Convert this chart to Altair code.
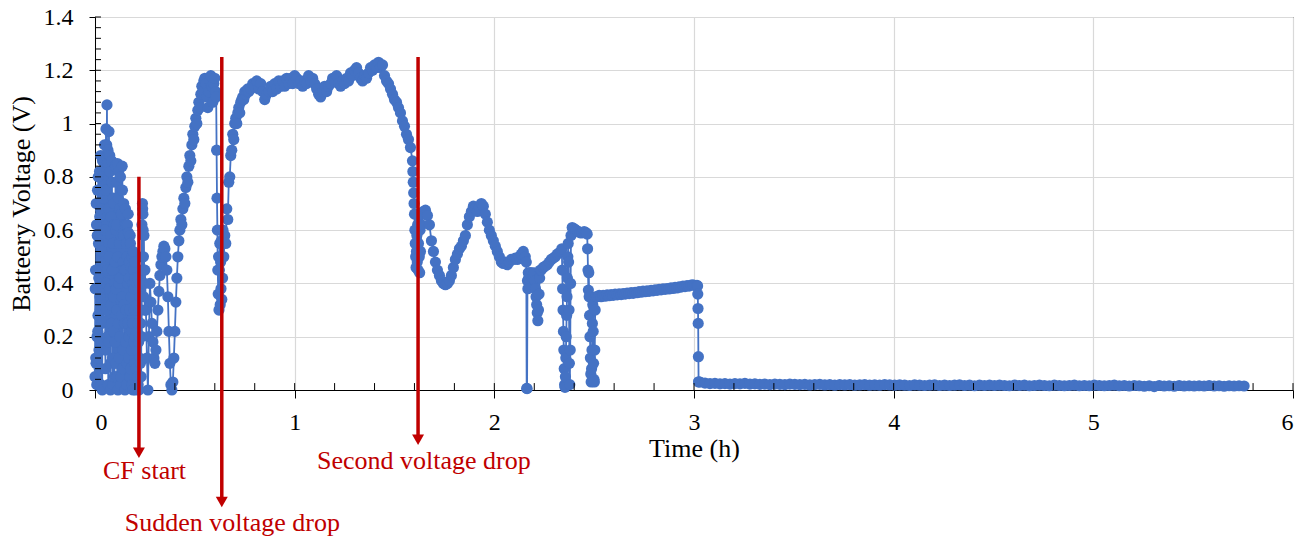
import altair as alt
import pandas as pd

BLUE = "#4472C4"
RED = "#C00000"
FONT = "Liberation Serif"

# ---- measured battery voltage, logged in segments: (start time h, sampling step h, voltages V)
noise_t0, noise_dt = 0.0, 0.0025
noise_v = [
    0.05, 0.45, 0.10, 0.62, 0.20, 0.75, 0.28, 0.55, 0.15, 0.82,
    0.35, 0.68, 0.02, 0.50, 0.25, 0.86, 0.40, 0.72, 0.32, 0.92,
    0.60, 0.08, 0.98, 0.30, 1.07, 0.45, 0.90, 0.18, 0.97, 0.38,
    0.82, 0.00, 0.65, 0.25, 0.78, 0.12, 0.55, 0.35, 0.70, 0.05,
    0.48, 0.84, 0.10, 0.62, 0.30, 0.85, 0.00, 0.72, 0.40, 0.55,
    0.20, 0.80, 0.05, 0.66, 0.35, 0.75, 0.15, 0.58, 0.45, 0.25,
    0.00, 0.68, 0.30, 0.55, 0.10, 0.62, 0.40, 0.59, 0.20, 0.48,
    0.05, 0.55, 0.35, 0.15, 0.50, 0.25, 0.00, 0.45, 0.38, 0.10,
    0.42, 0.00, 0.30, 0.15, 0.40, 0.05, 0.25, 0.38, 0.00, 0.20,
    0.35, 0.10, 0.30, 0.45, 0.62, 0.70, 0.66, 0.50, 0.58, 0.40,
]

# samples logged in between the ones above (same early noisy period)
noise2_t0, noise2_dt = 0.00125, 0.0025
noise2_v = [
    0.38, 0.12, 0.70, 0.02, 0.58, 0.22, 0.80, 0.42, 0.08, 0.65,
    0.30, 0.88, 0.18, 0.52, 0.00, 0.74, 0.26, 0.60, 0.48, 0.84,
    0.15, 0.75, 0.40, 0.92, 0.20, 0.85, 0.02, 0.68, 0.50, 0.88,
    0.10, 0.58, 0.32, 0.86, 0.45, 0.02, 0.72, 0.22, 0.62, 0.40,
    0.18, 0.60, 0.38, 0.78, 0.05, 0.50, 0.25, 0.82, 0.12, 0.68,
    0.42, 0.02, 0.58, 0.28, 0.84, 0.08, 0.48, 0.70, 0.32, 0.62,
    0.45, 0.18, 0.62, 0.02, 0.50, 0.25, 0.66, 0.12, 0.42, 0.30,
    0.58, 0.08, 0.46, 0.22, 0.02, 0.40, 0.52, 0.18, 0.30, 0.48,
    0.20, 0.38, 0.08, 0.32, 0.22, 0.42, 0.02, 0.18, 0.30, 0.12,
    0.40, 0.25, 0.05, 0.20, 0.50, 0.68, 0.60, 0.35, 0.45, 0.30,
]

rise1_t0, rise1_dt = 0.25, 0.005
rise1_v = [
    0.45, 0.30, 0.12, 0.00, 0.20, 0.40, 0.33, 0.25, 0.18, 0.12,
    0.10, 0.15, 0.22, 0.30, 0.37, 0.43, 0.47, 0.50, 0.52, 0.54,
    0.53, 0.50, 0.45, 0.35, 0.22, 0.10, 0.02, 0.00, 0.03, 0.12,
    0.22, 0.33, 0.42, 0.50, 0.56, 0.60, 0.64, 0.62, 0.68, 0.72,
    0.70, 0.76, 0.80, 0.78, 0.84, 0.88, 0.86, 0.92, 0.96, 0.94,
    0.99, 1.02, 1.00, 1.05, 1.08, 1.06, 1.11, 1.14, 1.12, 1.16,
    1.17, 1.15, 1.10, 1.06, 1.12, 1.16, 1.18, 1.14, 1.08, 1.15,
    1.17, 1.12,
]

drop1_t0, drop1_dt = 0.607, 0.002
drop1_v = [1.10, 0.90, 0.72, 0.60, 0.45, 0.36, 0.50, 0.30, 0.45, 0.55,
           0.32, 0.48, 0.38, 0.56, 0.34, 0.50, 0.42, 0.60]

rise2_t0, rise2_dt = 0.645, 0.005
rise2_v = [0.50, 0.58, 0.55, 0.68, 0.64, 0.78, 0.80, 0.88, 0.90, 0.96,
           0.94, 1.00, 1.02, 1.00, 1.04, 1.06, 1.04, 1.08, 1.09, 1.10,
           1.09, 1.12, 1.11, 1.12, 1.13, 1.12]

plateau_t0, plateau_dt = 0.78, 0.01
plateau_v = [
    1.13, 1.15, 1.14, 1.16, 1.13, 1.15, 1.12, 1.09, 1.11, 1.12,
    1.14, 1.12, 1.15, 1.13, 1.16, 1.14, 1.16, 1.14, 1.17, 1.15,
    1.17, 1.15, 1.18, 1.17, 1.15, 1.16, 1.14, 1.16, 1.15, 1.18,
    1.16, 1.17, 1.15, 1.13, 1.11, 1.10, 1.12, 1.14, 1.12, 1.14,
    1.15, 1.17, 1.16, 1.18, 1.15, 1.14, 1.16, 1.15, 1.17, 1.16,
    1.19, 1.18, 1.20, 1.21, 1.19, 1.17, 1.16, 1.18, 1.17, 1.19,
    1.21, 1.20, 1.22, 1.21, 1.23, 1.21, 1.22, 1.18, 1.16, 1.15,
    1.13, 1.11, 1.09, 1.08, 1.06, 1.04, 1.01, 0.99, 0.96, 0.94,
    0.91, 0.86,
]

drop2_t0, drop2_dt = 1.592, 0.002
drop2_v = [0.82, 0.78, 0.74, 0.70, 0.66, 0.60, 0.55, 0.50, 0.46, 0.52,
           0.58, 0.48, 0.62, 0.45, 0.55, 0.65, 0.50, 0.44, 0.60, 0.52]

wave_t0, wave_dt = 1.635, 0.01
wave_v = [
    0.62, 0.67, 0.675, 0.655, 0.62, 0.56, 0.52, 0.48, 0.45, 0.43,
    0.41, 0.40, 0.395, 0.40, 0.41, 0.43, 0.46, 0.49, 0.51, 0.53,
    0.54, 0.56, 0.58, 0.62, 0.65, 0.67, 0.69, 0.68, 0.67, 0.685,
    0.70, 0.69, 0.66, 0.63, 0.60, 0.58, 0.56, 0.54, 0.52, 0.50,
    0.48, 0.475, 0.48, 0.47, 0.48, 0.49, 0.49, 0.495, 0.49, 0.50,
    0.51, 0.52, 0.50,
]

cut1_t0, cut1_dt = 2.160, 0.002
cut1_v = [0.48, 0.006, 0.005, 0.41, 0.38, 0.44, 0.42]

dip_t0, dip_dt = 2.176, 0.003
dip_v = [0.44, 0.43, 0.44, 0.43, 0.44, 0.42, 0.43, 0.42, 0.44, 0.41,
         0.38, 0.35, 0.32, 0.29, 0.26, 0.30, 0.36, 0.42, 0.45]

ramp_t0, ramp_dt = 2.235, 0.01
ramp_v = [0.45, 0.46, 0.465, 0.47, 0.48, 0.49, 0.495, 0.50, 0.51, 0.515, 0.52]

cut2_t0, cut2_dt = 2.338, 0.002
cut2_v = [0.53, 0.45, 0.38, 0.30, 0.22, 0.15, 0.08, 0.02, 0.01, 0.05,
          0.12, 0.20, 0.28, 0.35, 0.42, 0.50, 0.55, 0.48, 0.30, 0.10,
          0.02, 0.15, 0.40, 0.58]

top_t0, top_dt = 2.39, 0.01
top_v = [0.61, 0.605, 0.60, 0.595, 0.59, 0.59, 0.595, 0.59]

cut3_t0, cut3_dt = 2.465, 0.002
cut3_v = [0.585, 0.53, 0.45, 0.375, 0.44, 0.35, 0.28, 0.20, 0.12, 0.06,
          0.03, 0.08, 0.15, 0.25, 0.32, 0.22, 0.10, 0.04, 0.03, 0.15,
          0.30, 0.35]

flat_t0, flat_dt = 2.515, 0.01
flat_v = [
    0.350, 0.355, 0.350, 0.355, 0.352, 0.357, 0.354, 0.358, 0.355, 0.360,
    0.357, 0.361, 0.358, 0.362, 0.360, 0.364, 0.362, 0.366, 0.363, 0.367,
    0.365, 0.369, 0.367, 0.371, 0.369, 0.372, 0.370, 0.374, 0.372, 0.376,
    0.374, 0.378, 0.376, 0.380, 0.378, 0.381, 0.379, 0.383, 0.381, 0.385,
    0.383, 0.387, 0.386, 0.390, 0.388, 0.392, 0.390, 0.394, 0.395, 0.392,
    0.393,
]

cut4_t0, cut4_dt = 3.018, 0.001
cut4_v = [0.39, 0.36, 0.306, 0.25, 0.125, 0.031, 0.03]

tail_t0, tail_dt = 3.03, 0.025
tail_v = [
    0.030, 0.026, 0.024, 0.025, 0.023, 0.024, 0.022, 0.024, 0.023, 0.025,
    0.022, 0.023, 0.021, 0.022, 0.020, 0.022, 0.021, 0.020, 0.022, 0.021,
    0.020, 0.021, 0.019, 0.020, 0.021, 0.019, 0.020, 0.018, 0.020, 0.019,
    0.020, 0.018, 0.019, 0.020, 0.018, 0.019, 0.018, 0.020, 0.019, 0.018,
    0.019, 0.018, 0.017, 0.019, 0.018, 0.017, 0.018, 0.019, 0.017, 0.018,
    0.017, 0.018, 0.019, 0.017, 0.018, 0.016, 0.018, 0.017, 0.018, 0.017,
    0.018, 0.017, 0.016, 0.018, 0.017, 0.018, 0.016, 0.017, 0.018, 0.017,
    0.016, 0.018, 0.017, 0.016, 0.017, 0.018, 0.016, 0.017, 0.016, 0.018,
    0.017, 0.016, 0.017, 0.018, 0.016, 0.017, 0.015, 0.017, 0.016, 0.014,
    0.016, 0.013, 0.017, 0.015, 0.016, 0.014, 0.017, 0.015, 0.016, 0.015,
    0.016, 0.015, 0.017, 0.015, 0.016, 0.014, 0.016, 0.015, 0.016, 0.015,
]

segments = [
    (noise_t0, noise_dt, noise_v), (noise2_t0, noise2_dt, noise2_v),
    (rise1_t0, rise1_dt, rise1_v),
    (drop1_t0, drop1_dt, drop1_v), (rise2_t0, rise2_dt, rise2_v),
    (plateau_t0, plateau_dt, plateau_v), (drop2_t0, drop2_dt, drop2_v),
    (wave_t0, wave_dt, wave_v), (cut1_t0, cut1_dt, cut1_v),
    (dip_t0, dip_dt, dip_v), (ramp_t0, ramp_dt, ramp_v),
    (cut2_t0, cut2_dt, cut2_v), (top_t0, top_dt, top_v),
    (cut3_t0, cut3_dt, cut3_v), (flat_t0, flat_dt, flat_v),
    (cut4_t0, cut4_dt, cut4_v), (tail_t0, tail_dt, tail_v),
]

rows = []
for t0, dt, vals in segments:
    for k, v in enumerate(vals):
        rows.append({"x": round(t0 + k * dt, 5), "y": v})
df = pd.DataFrame(rows).sort_values("x", kind="stable").reset_index(drop=True)
df["i"] = range(len(df))

# ---- annotations
arrow_labels = ["CF start", "Sudden voltage drop", "Second voltage drop"]
arrow_x = [0.22, 0.635, 1.618]
arrow_top = [0.80, 1.25, 1.25]
arrow_tip = [-0.255, -0.44, -0.206]
label_x = [0.248, 0.688, 1.647]
label_y = [-0.334, -0.529, -0.297]

head_offset = 0.0195
arrows = pd.DataFrame({
    "x": arrow_x,
    "y": arrow_top,
    "y2": [t + head_offset for t in arrow_tip],
})
heads = pd.DataFrame({"x": arrow_x, "y": [t + head_offset for t in arrow_tip]})
labels = pd.DataFrame({"x": label_x, "y": label_y, "label": arrow_labels})

# ---- axis ticks
x_ticks = [0, 1, 2, 3, 4, 5, 6]
y_ticks = [0, 0.2, 0.4, 0.6, 0.8, 1.0, 1.2, 1.4]
x_inner_ticks = pd.DataFrame({"x": [round(k * 0.2, 2) for k in range(1, 31)]})
y_inner_ticks = pd.DataFrame({"y": [round(k * 0.04, 2) for k in range(1, 36)]})

xscale = alt.Scale(domain=[0, 6], nice=False, zero=False)
yscale = alt.Scale(domain=[0, 1.4], nice=False)

common = dict(labelFont=FONT, titleFont=FONT, labelColor="black", titleColor="black",
              domainColor="black", tickColor="black", gridColor="#d9d9d9", gridWidth=1.2,
              titleFontWeight="normal", grid=True)
xaxis = alt.Axis(values=x_ticks, title="Time (h)", format="d", labelFontSize=24,
                 labelPadding=12, tickSize=8, titleFontSize=26,
                 titleY=66.5, titleBaseline="alphabetic", **common)
yaxis = alt.Axis(values=y_ticks, title="Batteery Voltage (V)", format=".1~f",
                 labelFontSize=24, labelPadding=16, tickSize=6, titleFontSize=26,
                 titleAngle=270, titleX=-65.5, titleY=186.5,
                 titleBaseline="alphabetic", titleAlign="center", **common)

X = alt.X("x:Q", scale=xscale, axis=xaxis)
Y = alt.Y("y:Q", scale=yscale, axis=yaxis)

line = alt.Chart(df).mark_line(color=BLUE, strokeWidth=1.8).encode(
    x=X, y=Y, order=alt.Order("i:Q"),
)
pts = alt.Chart(df).mark_circle(color=BLUE, size=125, opacity=1).encode(x=X, y=Y)

xt = alt.Chart(x_inner_ticks).mark_rule(color="black", strokeWidth=1).encode(
    x=X, y=alt.datum(0), y2=alt.datum(0.026),
)
yt = alt.Chart(y_inner_ticks).mark_rule(color="black", strokeWidth=1).encode(
    y=Y, x=alt.datum(0), x2=alt.datum(0.03),
)

shaft = alt.Chart(arrows).mark_rule(color=RED, strokeWidth=3.5).encode(
    x=X, y=Y, y2="y2:Q",
)
head = alt.Chart(heads).mark_point(shape="triangle-down", filled=True, size=144,
                                   color=RED, opacity=1).encode(x=X, y=Y)
text = alt.Chart(labels).mark_text(font=FONT, fontSize=26, color=RED,
                                   baseline="alphabetic", align="center").encode(
    x=X, y=Y, text="label:N",
)

chart = alt.layer(line, pts, xt, yt, shaft, head, text).properties(
    width=1198, height=373,
    autosize=alt.AutoSizeParams(type="none"),
    padding={"left": 95, "top": 17, "right": 22, "bottom": 154},
).configure(
    font=FONT
).configure_view(
    stroke="black", strokeWidth=1
).configure_axis(
    labelFont=FONT, titleFont=FONT,
)

chart.save("out.html", embed_options={"renderer": "svg", "actions": False})
